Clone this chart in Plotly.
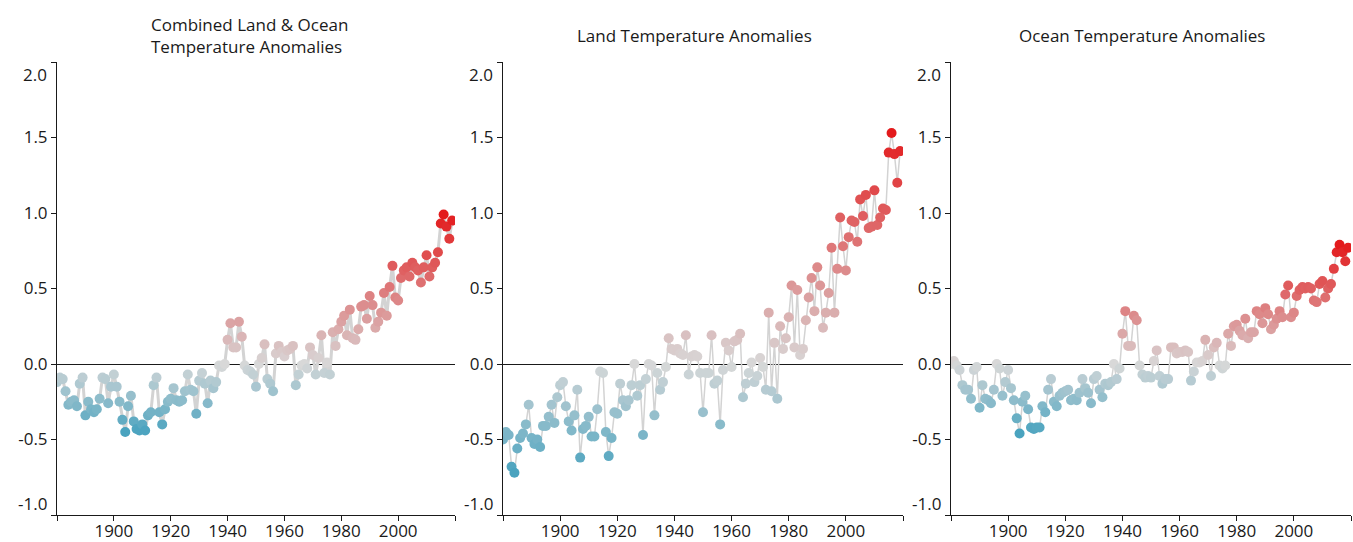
import plotly.graph_objects as go

W, H = 1353, 542

years = list(range(1880, 2020))

combined = [
    -0.12, -0.09, -0.10, -0.18, -0.27, -0.25, -0.24, -0.28, -0.13, -0.09,
    -0.34, -0.25, -0.30, -0.32, -0.30, -0.23, -0.09, -0.10, -0.26, -0.15,
    -0.07, -0.15, -0.25, -0.37, -0.45, -0.28, -0.21, -0.38, -0.43, -0.44,
    -0.40, -0.44, -0.34, -0.32, -0.14, -0.09, -0.32, -0.40, -0.30, -0.25,
    -0.23, -0.16, -0.24, -0.25, -0.24, -0.18, -0.07, -0.17, -0.18, -0.33,
    -0.11, -0.06, -0.13, -0.26, -0.11, -0.16, -0.12, -0.01, -0.02, 0.00,
    0.16, 0.27, 0.11, 0.11, 0.28, 0.18, -0.01, -0.04, -0.05, -0.07,
    -0.15, 0.00, 0.04, 0.13, -0.10, -0.13, -0.18, 0.07, 0.12, 0.08,
    0.05, 0.09, 0.10, 0.12, -0.14, -0.07, -0.01, 0.00, -0.03, 0.11,
    0.06, -0.07, 0.04, 0.19, -0.06, 0.01, -0.07, 0.21, 0.12, 0.23,
    0.28, 0.32, 0.19, 0.36, 0.17, 0.16, 0.23, 0.38, 0.39, 0.30,
    0.45, 0.39, 0.24, 0.28, 0.34, 0.47, 0.32, 0.51, 0.65, 0.44,
    0.42, 0.57, 0.62, 0.64, 0.58, 0.67, 0.64, 0.62, 0.54, 0.64,
    0.72, 0.58, 0.64, 0.67, 0.74, 0.93, 0.99, 0.91, 0.83, 0.95,
]

land = [
    -0.50, -0.45, -0.47, -0.68, -0.72, -0.56, -0.49, -0.46, -0.40, -0.27,
    -0.49, -0.53, -0.50, -0.55, -0.41, -0.41, -0.35, -0.27, -0.39, -0.22,
    -0.14, -0.12, -0.28, -0.38, -0.44, -0.34, -0.17, -0.62, -0.43, -0.41,
    -0.35, -0.48, -0.48, -0.30, -0.05, -0.06, -0.45, -0.61, -0.49, -0.32,
    -0.33, -0.13, -0.24, -0.28, -0.24, -0.14, 0.00, -0.21, -0.14, -0.47,
    -0.10, 0.00, -0.01, -0.34, -0.06, -0.17, -0.12, -0.02, 0.17, 0.10,
    0.09, 0.10, 0.07, 0.06, 0.19, -0.07, 0.05, 0.06, 0.05, -0.06,
    -0.32, -0.06, -0.06, 0.19, -0.13, -0.11, -0.40, -0.04, 0.14, 0.09,
    -0.02, 0.15, 0.16, 0.20, -0.22, -0.13, -0.06, 0.01, -0.12, -0.08,
    0.04, -0.02, -0.17, 0.34, -0.18, 0.14, -0.23, 0.25, 0.10, 0.17,
    0.31, 0.52, 0.11, 0.49, 0.06, 0.10, 0.29, 0.44, 0.57, 0.35,
    0.64, 0.52, 0.24, 0.34, 0.47, 0.77, 0.34, 0.63, 0.97, 0.78,
    0.62, 0.84, 0.95, 0.94, 0.81, 1.09, 0.98, 1.12, 0.90, 0.91,
    1.15, 0.92, 0.97, 1.03, 1.02, 1.40, 1.53, 1.39, 1.20, 1.41,
]

ocean = [
    0.00, 0.02, -0.01, -0.04, -0.14, -0.17, -0.17, -0.23, -0.04, -0.02,
    -0.29, -0.14, -0.23, -0.24, -0.26, -0.17, 0.00, -0.03, -0.21, -0.12,
    -0.04, -0.16, -0.24, -0.36, -0.46, -0.25, -0.21, -0.30, -0.42, -0.43,
    -0.42, -0.42, -0.28, -0.32, -0.17, -0.10, -0.25, -0.28, -0.21, -0.19,
    -0.18, -0.17, -0.24, -0.23, -0.24, -0.19, -0.10, -0.16, -0.19, -0.26,
    -0.10, -0.08, -0.17, -0.22, -0.13, -0.14, -0.12, 0.00, -0.10, -0.03,
    0.20, 0.35, 0.12, 0.12, 0.32, 0.29, -0.01, -0.07, -0.09, -0.08,
    -0.09, 0.02, 0.09, -0.08, -0.13, -0.10, -0.10, 0.11, 0.11, 0.07,
    0.08, 0.08, 0.09, 0.08, -0.11, -0.05, 0.01, 0.01, 0.02, 0.16,
    0.06, -0.08, 0.11, 0.14, -0.01, -0.03, -0.01, 0.20, 0.12, 0.25,
    0.26, 0.22, 0.19, 0.30, 0.17, 0.21, 0.21, 0.35, 0.33, 0.27,
    0.37, 0.33, 0.23, 0.26, 0.30, 0.35, 0.31, 0.46, 0.52, 0.31,
    0.34, 0.45, 0.49, 0.51, 0.50, 0.51, 0.50, 0.42, 0.41, 0.53,
    0.55, 0.44, 0.50, 0.53, 0.63, 0.74, 0.79, 0.74, 0.68, 0.77,
]

panel_titles = [
    "Combined Land &amp; Ocean<br>Temperature Anomalies",
    "Land Temperature Anomalies",
    "Ocean Temperature Anomalies",
]

x_tick_vals = [1880, 1900, 1920, 1940, 1960, 1980, 2000, 2020]
x_tick_text = ["", "1900", "1920", "1940", "1960", "1980", "2000", ""]
y_tick_vals = [-1.0, -0.5, 0.0, 0.5, 1.0, 1.5, 2.0]
y_tick_text = ["", "-0.5", "0.0", "0.5", "1.0", "1.5", ""]

COOL = "#4aa3bf"
NEUTRAL = "#d8d8d8"
WARM = "#e31a1c"
LINK = "#d3d3d3"
INK = "#1a1a1a"
FONT = "Open Sans"

# plot-area edges in pixels
panel_px = [(57, 455), (503, 903), (951, 1351)]
top_px, bottom_px = 62, 515
line_widths = [3, 1.5, 1.5]

fig = go.Figure()
series = [combined, land, ocean]

for i, (vals, (x0, x1)) in enumerate(zip(series, panel_px)):
    n = i + 1
    xa = "x" if n == 1 else f"x{n}"
    ya = "y" if n == 1 else f"y{n}"
    vmin, vmax = min(vals), max(vals)
    zpos = (0 - vmin) / (vmax - vmin)
    fig.add_trace(go.Scatter(
        x=years, y=vals, mode="lines",
        line=dict(color=LINK, width=line_widths[i]),
        xaxis=xa, yaxis=ya, hoverinfo="skip", showlegend=False,
    ))
    fig.add_trace(go.Scatter(
        x=years, y=vals, mode="markers",
        marker=dict(
            size=10, color=vals, cmin=vmin, cmax=vmax,
            colorscale=[[0, COOL], [zpos, NEUTRAL], [1, WARM]],
            line=dict(width=0),
        ),
        xaxis=xa, yaxis=ya, showlegend=False,
    ))

    axis_common = dict(
        showline=True, linecolor=INK, linewidth=1,
        ticks="outside", ticklen=5, tickwidth=1, tickcolor=INK,
        showgrid=False, automargin=False,
        tickfont=dict(family=FONT, size=17, color=INK),
    )
    fig.layout[f"xaxis{'' if n == 1 else n}"] = dict(
        axis_common,
        domain=[x0 / W, x1 / W], anchor=ya,
        range=[1880, 2020],
        tickmode="array", tickvals=x_tick_vals, ticktext=x_tick_text,
        zeroline=False, ticklabelstandoff=-4,
    )
    fig.layout[f"yaxis{'' if n == 1 else n}"] = dict(
        axis_common,
        domain=[1 - bottom_px / H, 1 - top_px / H], anchor=xa,
        range=[-1.0, 2.0],
        tickmode="array", tickvals=y_tick_vals, ticktext=y_tick_text,
        zeroline=True, zerolinecolor=INK, zerolinewidth=1,
    )

    # end labels of the value axis sit just inside the axis ends
    for val, label, shift in [(2.0, "2.0", -12), (-1.0, "-1.0", 12)]:
        fig.add_annotation(
            xref=f"{xa} domain", yref=ya, x=0, y=val,
            text=label, showarrow=False, xanchor="right", yanchor="middle",
            xshift=-8, yshift=shift,
            font=dict(family=FONT, size=17, color=INK),
        )

# panel headings
fig.add_annotation(
    xref="paper", yref="paper", x=149 / W, y=1 - 35 / H,
    text=panel_titles[0], showarrow=False, xanchor="left", yanchor="middle",
    align="left", font=dict(family=FONT, size=17, color=INK),
)
for t, cx in [(panel_titles[1], 694), (panel_titles[2], 1142)]:
    fig.add_annotation(
        xref="paper", yref="paper", x=cx / W, y=1 - 36 / H,
        text=t, showarrow=False, xanchor="center", yanchor="middle",
        font=dict(family=FONT, size=17, color=INK),
    )

fig.update_layout(
    width=W, height=H,
    margin=dict(l=0, r=0, t=0, b=0, autoexpand=False),
    paper_bgcolor="white", plot_bgcolor="white",
    font=dict(family=FONT, color=INK),
)

fig.write_html("out.html", config={"displayModeBar": False})
